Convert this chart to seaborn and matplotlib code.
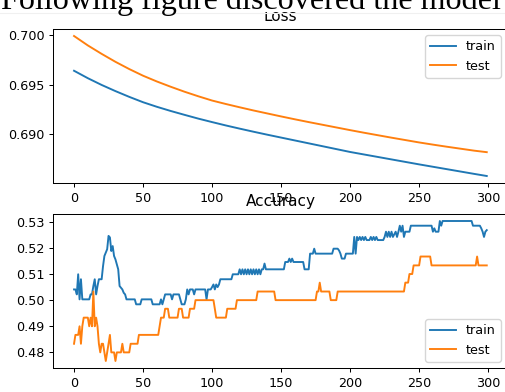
import matplotlib
matplotlib.use("Agg")
import matplotlib.pyplot as plt
import seaborn as sns
import pandas as pd
from matplotlib.patches import Rectangle
from matplotlib.lines import Line2D

# ---------------- data ----------------
loss_epochs = [0, 10, 20, 30, 40, 50, 60, 70, 80, 90, 100, 110, 120, 130, 140, 150,
               160, 170, 180, 190, 200, 210, 220, 230, 240, 250, 260, 270, 280, 290, 299]
loss_train = [0.69640, 0.69565, 0.69497, 0.69435, 0.69377, 0.69323, 0.69277, 0.69235,
              0.69196, 0.69158, 0.69123, 0.69089, 0.69057, 0.69026, 0.68996, 0.68967,
              0.68938, 0.68909, 0.68880, 0.68851, 0.68822, 0.68797, 0.68772, 0.68747,
              0.68722, 0.68697, 0.68673, 0.68649, 0.68625, 0.68601, 0.68580]
loss_test = [0.69990, 0.69895, 0.69810, 0.69730, 0.69657, 0.69590, 0.69532, 0.69479,
             0.69429, 0.69383, 0.69340, 0.69305, 0.69272, 0.69240, 0.69210, 0.69180,
             0.69151, 0.69123, 0.69096, 0.69069, 0.69042, 0.69016, 0.68991, 0.68966,
             0.68942, 0.68918, 0.68896, 0.68875, 0.68855, 0.68835, 0.68820]

acc_train_epochs = [0, 1, 2, 3, 4, 5, 6, 7, 11, 12, 13, 14, 15, 16, 17, 18, 20, 21, 22, 24,
                    25, 26, 27, 28, 29, 30, 32, 33, 35, 36, 37, 38, 44, 45, 48, 49, 56, 57,
                    62, 63, 64, 65, 66, 70, 71, 72, 76, 77, 78, 80, 81, 82, 83, 84, 86, 87,
                    88, 95, 96, 97, 99, 100, 101, 102, 103, 104, 105, 106, 114, 115, 119,
                    120, 121, 122, 123, 124, 125, 126, 127, 128, 129, 130, 131, 132, 133,
                    134, 135, 136, 137, 138, 139, 152, 153, 155, 156, 157, 158, 159, 166,
                    167, 170, 171, 173, 174, 175, 187, 188, 191, 192, 193, 194, 196, 197,
                    202, 203, 204, 205, 206, 207, 208, 209, 210, 211, 212, 214, 215, 216,
                    217, 218, 219, 220, 224, 225, 226, 227, 228, 229, 230, 231, 233, 234,
                    235, 236, 237, 238, 239, 240, 243, 244, 259, 260, 261, 262, 264, 265,
                    266, 267, 288, 289, 294, 295, 296, 297, 298, 299]
acc_train = [0.5041, 0.5041, 0.5022, 0.5099, 0.5003, 0.5080, 0.5003, 0.5003, 0.5003, 0.5022,
             0.5022, 0.5054, 0.5080, 0.5022, 0.5054, 0.5080, 0.5080, 0.5130, 0.5169, 0.5195,
             0.5246, 0.5240, 0.5188, 0.5207, 0.5169, 0.5156, 0.5118, 0.5054, 0.5041, 0.5028,
             0.5022, 0.5003, 0.5003, 0.4984, 0.4984, 0.5003, 0.5003, 0.4984,
             0.4984, 0.5003, 0.4984, 0.5003, 0.5022, 0.5022, 0.5003, 0.5022, 0.5022, 0.5003,
             0.4984, 0.4984, 0.5003, 0.5041, 0.5022, 0.5041, 0.5041, 0.5022,
             0.5041, 0.5041, 0.5003, 0.5041, 0.5041, 0.5050, 0.5060, 0.5041, 0.5060, 0.5050,
             0.5060, 0.5080, 0.5080, 0.5099, 0.5099,
             0.5118, 0.5099, 0.5118, 0.5099, 0.5118, 0.5099, 0.5118, 0.5099, 0.5118, 0.5099,
             0.5118, 0.5099, 0.5118, 0.5099,
             0.5118, 0.5099, 0.5118, 0.5118, 0.5140, 0.5118, 0.5118, 0.5146, 0.5146, 0.5159,
             0.5146, 0.5159, 0.5146, 0.5146,
             0.5118, 0.5118, 0.5178, 0.5178, 0.5197, 0.5178, 0.5178, 0.5197, 0.5197, 0.5190,
             0.5178, 0.5159, 0.5159, 0.5178,
             0.5178, 0.5242, 0.5178, 0.5242, 0.5230, 0.5242, 0.5230, 0.5242, 0.5230, 0.5242,
             0.5230, 0.5230, 0.5242, 0.5230,
             0.5242, 0.5230, 0.5242, 0.5230, 0.5230, 0.5242, 0.5262, 0.5242, 0.5262, 0.5242,
             0.5262, 0.5242, 0.5262, 0.5242,
             0.5262, 0.5285, 0.5262, 0.5285, 0.5242, 0.5262, 0.5262, 0.5285, 0.5285, 0.5262,
             0.5275, 0.5262, 0.5262, 0.5303,
             0.5285, 0.5303, 0.5303, 0.5285, 0.5285, 0.5275, 0.5262, 0.5242, 0.5262, 0.5268]

acc_test_epochs = [0, 1, 3, 4, 5, 6, 7, 10, 11, 12, 13, 14, 15, 16, 17, 18, 19, 20, 21, 22,
                   23, 24, 25, 26, 27, 29, 30, 31, 34, 35, 36, 40, 41, 46, 47, 61, 63, 65,
                   66, 68, 69, 75, 76, 78, 79, 83, 84, 87, 88, 101, 102, 103, 110, 111, 117,
                   118, 132, 133, 145, 146, 175, 176, 177, 178, 179, 185, 186, 190, 191,
                   239, 240, 242, 243, 245, 246, 250, 251, 258, 259, 291, 292, 293, 299]
acc_test = [0.4833, 0.4867, 0.4867, 0.4900, 0.4833, 0.4900, 0.4933, 0.4933, 0.4900, 0.4933,
            0.4900, 0.5033, 0.4900, 0.4933, 0.4900, 0.4833, 0.4800, 0.4833, 0.4833, 0.4800,
            0.4767, 0.4800, 0.4833, 0.4867, 0.4800, 0.4800, 0.4767, 0.4800, 0.4800, 0.4833,
            0.4800, 0.4800, 0.4833, 0.4833, 0.4867, 0.4867, 0.4933, 0.4933,
            0.4967, 0.4967, 0.4933, 0.4933, 0.4967, 0.4967, 0.4933, 0.4933, 0.4967, 0.4967,
            0.5000, 0.5000, 0.4967, 0.4933, 0.4933, 0.4967, 0.4967,
            0.5000, 0.5000, 0.5033, 0.5033, 0.5000, 0.5000, 0.5033, 0.5033, 0.5067, 0.5033,
            0.5033, 0.5000, 0.5000, 0.5033,
            0.5033, 0.5067, 0.5067, 0.5100, 0.5100, 0.5133, 0.5133, 0.5167, 0.5167, 0.5133,
            0.5133, 0.5167, 0.5133, 0.5133]

x_ticks = [0, 50, 100, 150, 200, 250, 300]
heading_text = "Following figure discovered the model"

# ---------------- style ----------------
S = 0.916
W, H = 505, 392
blue, orange = "#1f77b4", "#ff7f0e"
plt.rcParams.update({
    "font.family": ["DejaVu Sans"],
    "font.size": 10 * S,
    "axes.linewidth": 0.8 * S,
    "xtick.major.width": 0.8 * S,
    "ytick.major.width": 0.8 * S,
    "xtick.major.size": 3.5 * S,
    "ytick.major.size": 3.5 * S,
    "xtick.major.pad": 3.5 * S,
    "ytick.major.pad": 3.5 * S,
    "axes.titlepad": 6 * S,
})

fig = plt.figure(figsize=(W / 100, H / 100), dpi=100)
left, width = 53.4 / W, 454 / W
ax1 = fig.add_axes([left, (H - 183) / H, width, 154 / H])
ax2 = fig.add_axes([left, (H - 368) / H, width, 154 / H])

lw = 1.5 * S
sns.lineplot(x=loss_epochs, y=loss_train, ax=ax1, color=blue, lw=lw, label="train")
sns.lineplot(x=loss_epochs, y=loss_test, ax=ax1, color=orange, lw=lw, label="test")
ax1.set_title("Loss", fontsize=12 * S)
ax1.set_yticks([0.690, 0.695, 0.700])
ax1.legend(loc="upper right", fontsize=10 * S)

sns.lineplot(x=acc_train_epochs, y=acc_train, ax=ax2, color=blue, lw=lw, label="train")
sns.lineplot(x=acc_test_epochs, y=acc_test, ax=ax2, color=orange, lw=lw, label="test")
ax2.set_title("Accuracy", fontsize=12 * S)
ax2.set_yticks([0.48, 0.49, 0.50, 0.51, 0.52, 0.53])
ax2.legend(loc="lower right", fontsize=10 * S)

for ax in (ax1, ax2):
    ax.set_xticks(x_ticks)
    ax.set_xlabel("")
    ax.set_ylabel("")
    ax.set_xlim(-14.95, 313.95)
    ax.tick_params(labelsize=10 * S)

# page strip covering the top of the chart, with the page text
fig.patches.append(Rectangle((0, (H - 12) / H), 1, 12 / H, transform=fig.transFigure,
                             facecolor="white", edgecolor="none", zorder=10))
fig.lines.append(Line2D([0, 1], [(H - 12.5) / H] * 2, transform=fig.transFigure,
                        color="#f0f0f0", lw=0.8, zorder=11))
fig.text(1 / W, (H - 9) / H, heading_text, family=["Liberation Serif"], fontsize=23.1,
         va="baseline", ha="left", zorder=12)

fig.savefig("out.png", dpi=100)
